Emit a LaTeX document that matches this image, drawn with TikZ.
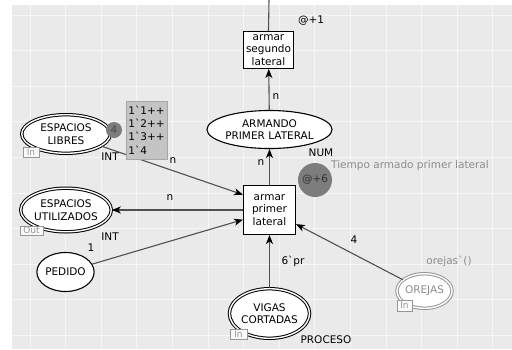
\documentclass[tikz,border=0pt]{standalone}
\usepackage{fontspec}
\setmainfont{DejaVu Sans}
\usetikzlibrary{shapes.geometric,arrows.meta}
\definecolor{canvas}{RGB}{234,234,234}
\definecolor{gridline}{RGB}{246,246,246}
\definecolor{arcgray}{RGB}{80,80,80}
\definecolor{tag}{RGB}{150,150,150}
\definecolor{mark}{RGB}{196,196,196}
\definecolor{delay}{RGB}{125,125,125}
\definecolor{soft}{RGB}{140,140,140}
\begin{document}
\begin{tikzpicture}[x=1pt,y=-1pt,
  every node/.style={font=\fontsize{10.5}{12.5}\selectfont, inner sep=0pt},
  trans/.style={rectangle, draw=black, line width=1.3pt, fill=white, align=center},
  place/.style={ellipse, draw=black, line width=1.1pt, fill=white, align=center},
  port/.style={ellipse, draw=black, line width=1pt, double=white, double distance=1.4pt, fill=white, align=center},
  arc/.style={draw=arcgray, line width=1.1pt, -{Stealth[length=9pt,width=7pt,inset=2.5pt,black]}},
  tagbox/.style={rectangle, draw=tag, line width=0.8pt, fill=white!75!canvas, text=tag,
    font=\fontsize{9}{9}\selectfont, minimum height=10pt},
]
\useasboundingbox (0,0) rectangle (512,349);
% canvas with faint grid
\fill[white] (0,0) rectangle (512,349);
\fill[canvas] (12,5) rectangle (512,349);
\foreach \gx in {30,65.6,...,512} \draw[gridline, line width=0.8pt] (\gx,5) -- (\gx,349);
\foreach \gy in {15,50.6,...,349} \draw[gridline, line width=0.8pt] (12,\gy) -- (512,\gy);

% transitions
\node[trans, minimum width=49.7pt, minimum height=36.7pt] (t2) at (268.5,50) {armar\\segundo\\lateral};
\node[trans, minimum width=51.7pt, minimum height=48.7pt] (t1) at (269.5,210) {armar\\primer\\lateral};

% places
\node[place, minimum width=102pt, minimum height=38pt] (ap) at (269.5,129.5) {ARMANDO\\PRIMER LATERAL};
\node[port, minimum width=88.6pt, minimum height=38.6pt] (el) at (66,134) {ESPACIOS\\LIBRES};
\node[port, minimum width=90.6pt, minimum height=43.6pt] (eu) at (66,210) {ESPACIOS\\UTILIZADOS};
\node[place, minimum width=50pt, minimum height=39pt] (pe) at (65.5,272) {PEDIDO};
\node[port, minimum width=75.6pt, minimum height=49.6pt] (vc) at (269.5,313.5) {VIGAS\\CORTADAS};
\node[port, draw=tag, text=soft, minimum width=47.6pt, minimum height=34.6pt] (or) at (424.5,291) {OREJAS};

% arcs
\coordinate (top) at (269,0);
\draw[draw=arcgray, line width=1.1pt] (top) -- (t2.north);
\draw[arc] (ap) -- (t2);
\draw[arc] (t1) -- (ap);
\draw[arc] (el) -- (t1.150);
\draw[arc] (t1.west) -- (eu.east);
\draw[arc] (pe) -- (t1.200);
\draw[arc] (vc) -- (t1);
\draw[arc] (or) -- (t1.332);

% port tags
\node[tagbox, minimum width=16pt] (tagel) at (31,152) {In};
\node[tagbox, minimum width=23pt, minimum height=9pt] (tageu) at (31.5,230.5) {Out};
\node[tagbox, minimum width=17pt] (tagvc) at (238.5,334) {In};
\node[tagbox, minimum width=15pt, minimum height=11pt] (tagor) at (404.5,305.5) {In};

% initial marking of ESPACIOS LIBRES
\node[circle, fill=delay, minimum size=16pt, text=black!70] (tok) at (114,130) {4};
\node[rectangle, fill=mark, draw=mark!85!black, line width=0.5pt, minimum width=41pt, minimum height=58pt,
  align=left, font=\fontsize{10.5}{13.3}\selectfont] (mk) at (146.5,130)
  {1\textasciigrave 1++\\1\textasciigrave 2++\\1\textasciigrave 3++\\1\textasciigrave 4};

% time delay of armar primer lateral
\node[circle, fill=delay, minimum size=34pt, text=black!80] (dl) at (315,180) {@+6};

% inscriptions
\node (l1) at (311,21) {@+1};
\node (l2) at (276,97) {n};
\node (l3) at (261,163) {n};
\node (l4) at (321,153) {NUM};
\node[anchor=west, text=soft] (l5) at (331,166) {Tiempo armado primer lateral};
\node (l6) at (110,157) {INT};
\node (l7) at (173,161) {n};
\node (l8) at (170,198) {n};
\node (l9) at (110,237) {INT};
\node (l10) at (91,248) {1};
\node (l11) at (293,261) {6\textasciigrave pr};
\node (l12) at (326,340) {PROCESO};
\node (l13) at (354,240) {4};
\node[text=soft] (l14) at (449,261) {orejas\textasciigrave ()};
\end{tikzpicture}
\end{document}
